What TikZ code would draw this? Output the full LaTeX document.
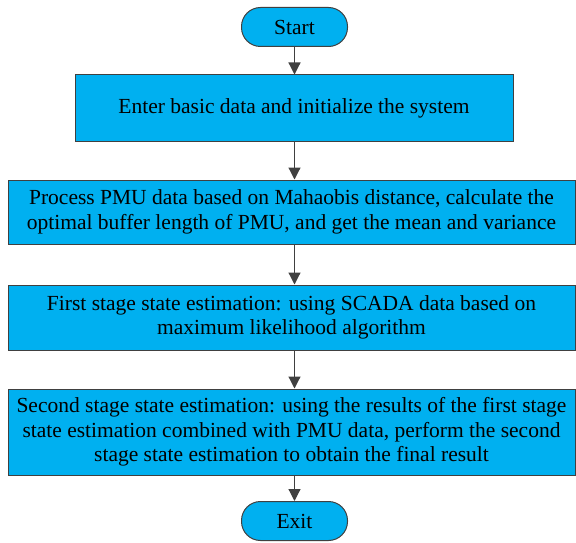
\documentclass[tikz,border=0pt]{standalone}
\usepackage{fontspec}
\setmainfont{Liberation Serif}
\usetikzlibrary{arrows.meta}
\definecolor{boxfill}{HTML}{00B0F0}
\definecolor{edge}{HTML}{404040}
\begin{document}
\begin{tikzpicture}[x=1pt,y=1pt,
  proc/.style={draw=edge, line width=1pt, fill=boxfill, align=center, inner sep=0pt, font=\fontsize{21.5}{24.5}\selectfont},
  term/.style={proc, rounded corners=19pt, minimum width=106pt, minimum height=39pt},
  arr/.style={draw=edge, line width=1.2pt, -{Triangle[length=12pt,width=12pt]}}]
\useasboundingbox (0,0) rectangle (576,-543);
\node[term] (start) at (294.5,-27) {Start};
\node[proc, minimum width=438pt, minimum height=66pt] (b1) at (294,-108) {Enter basic data and initialize the system};
\node[proc, minimum width=567pt, minimum height=64pt] (b2) at (291.5,-212) {Process PMU data based on Mahaobis distance, calculate the\\optimal buffer length of PMU, and get the mean and variance};
\node[proc, minimum width=567pt, minimum height=65pt] (b3) at (291.5,-317.5) {First stage state estimation: using SCADA data based on\\maximum likelihood algorithm};
\node[proc, minimum width=567pt, minimum height=86pt] (b4) at (291.5,-432) {Second stage state estimation: using the results of the first stage\\state estimation combined with PMU data, perform the second\\stage state estimation to obtain the final result};
\node[term] (exit) at (294.5,-521) {Exit};
\draw[arr] (start) -- (start|-b1.north);
\draw[arr] (b1.south-|start) -- (b2.north-|start);
\draw[arr] (b2.south-|start) -- (b3.north-|start);
\draw[arr] (b3.south-|start) -- (b4.north-|start);
\draw[arr] (b4.south-|start) -- (exit);
\end{tikzpicture}
\end{document}
